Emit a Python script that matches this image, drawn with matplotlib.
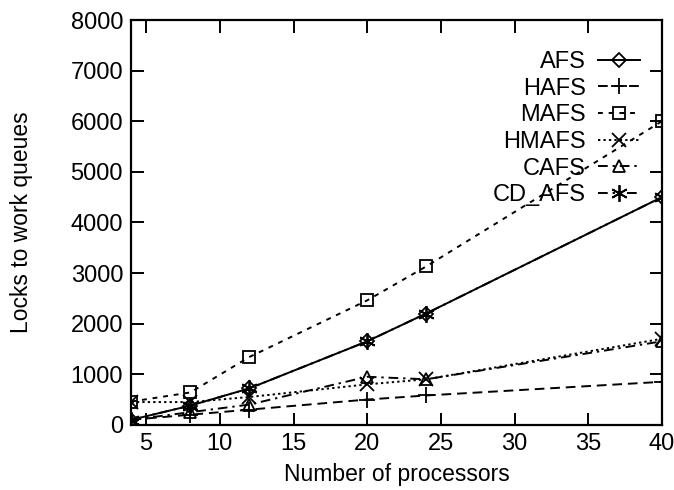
import matplotlib.pyplot as plt

# --- datos ---
procs = [4, 8, 12, 20, 24, 40]
afs = [100, 380, 720, 1650, 2200, 4500]
hafs = [100, 200, 300, 500, 580, 850]
mafs = [460, 640, 1340, 2460, 3130, 6000]
hmafs = [450, 450, 550, 800, 900, 1700]
cafs = [100, 250, 400, 950, 900, 1650]
cd_afs = [100, 380, 720, 1650, 2200, 4500]

plt.rcParams['font.family'] = ['Liberation Sans', 'DejaVu Sans']

fig = plt.figure(figsize=(6.74, 4.9), dpi=100)
ax = fig.add_axes([0.195, 0.133, 0.787, 0.826])

kw = dict(color='black', lw=1.4, mfc='none', mew=1.3, ms=9)
ax.plot(procs, afs, '-', marker='D', label='AFS', **{**kw, 'ms': 7})
ax.plot(procs, hafs, ls=(0, (5, 3)), marker='+', label='HAFS', **{**kw, 'ms': 12})
ax.plot(procs, mafs, ls=(0, (2.5, 3)), marker='s', label='MAFS', **kw)
ax.plot(procs, hmafs, ls=(0, (1.2, 1.6)), marker='x', label='HMAFS', **{**kw, 'ms': 10})
ax.plot(procs, cafs, ls=(0, (5, 2.5, 1.2, 2.5)), marker='^', label='CAFS', **kw)
ax.plot(procs, cd_afs, ls=(0, (5, 2.5, 1.2, 2.5, 1.2, 2.5)), marker=(6, 2, 0),
        label='CD_AFS', **{**kw, 'ms': 12})

ax.set_xlim(4, 40)
ax.set_ylim(0, 8000)
ax.set_xticks([5, 10, 15, 20, 25, 30, 35, 40])
ax.set_yticks(range(0, 8001, 1000))
ax.tick_params(direction='in', top=True, right=True, length=9, width=1.4, labelsize=17, pad=6)
for s in ax.spines.values():
    s.set_linewidth(1.6)

ax.set_xlabel("Number of processors", fontsize=16.5, labelpad=6)
ax.set_ylabel("Locks to work queues", fontsize=16.5, labelpad=27)

ax.legend(loc='upper right', frameon=False, markerfirst=False, fontsize=17,
          handlelength=1.8, labelspacing=0.2, borderaxespad=0.5, borderpad=0.2,
          handletextpad=0.5, bbox_to_anchor=(0.99, 0.965))

plt.savefig("out.png")
